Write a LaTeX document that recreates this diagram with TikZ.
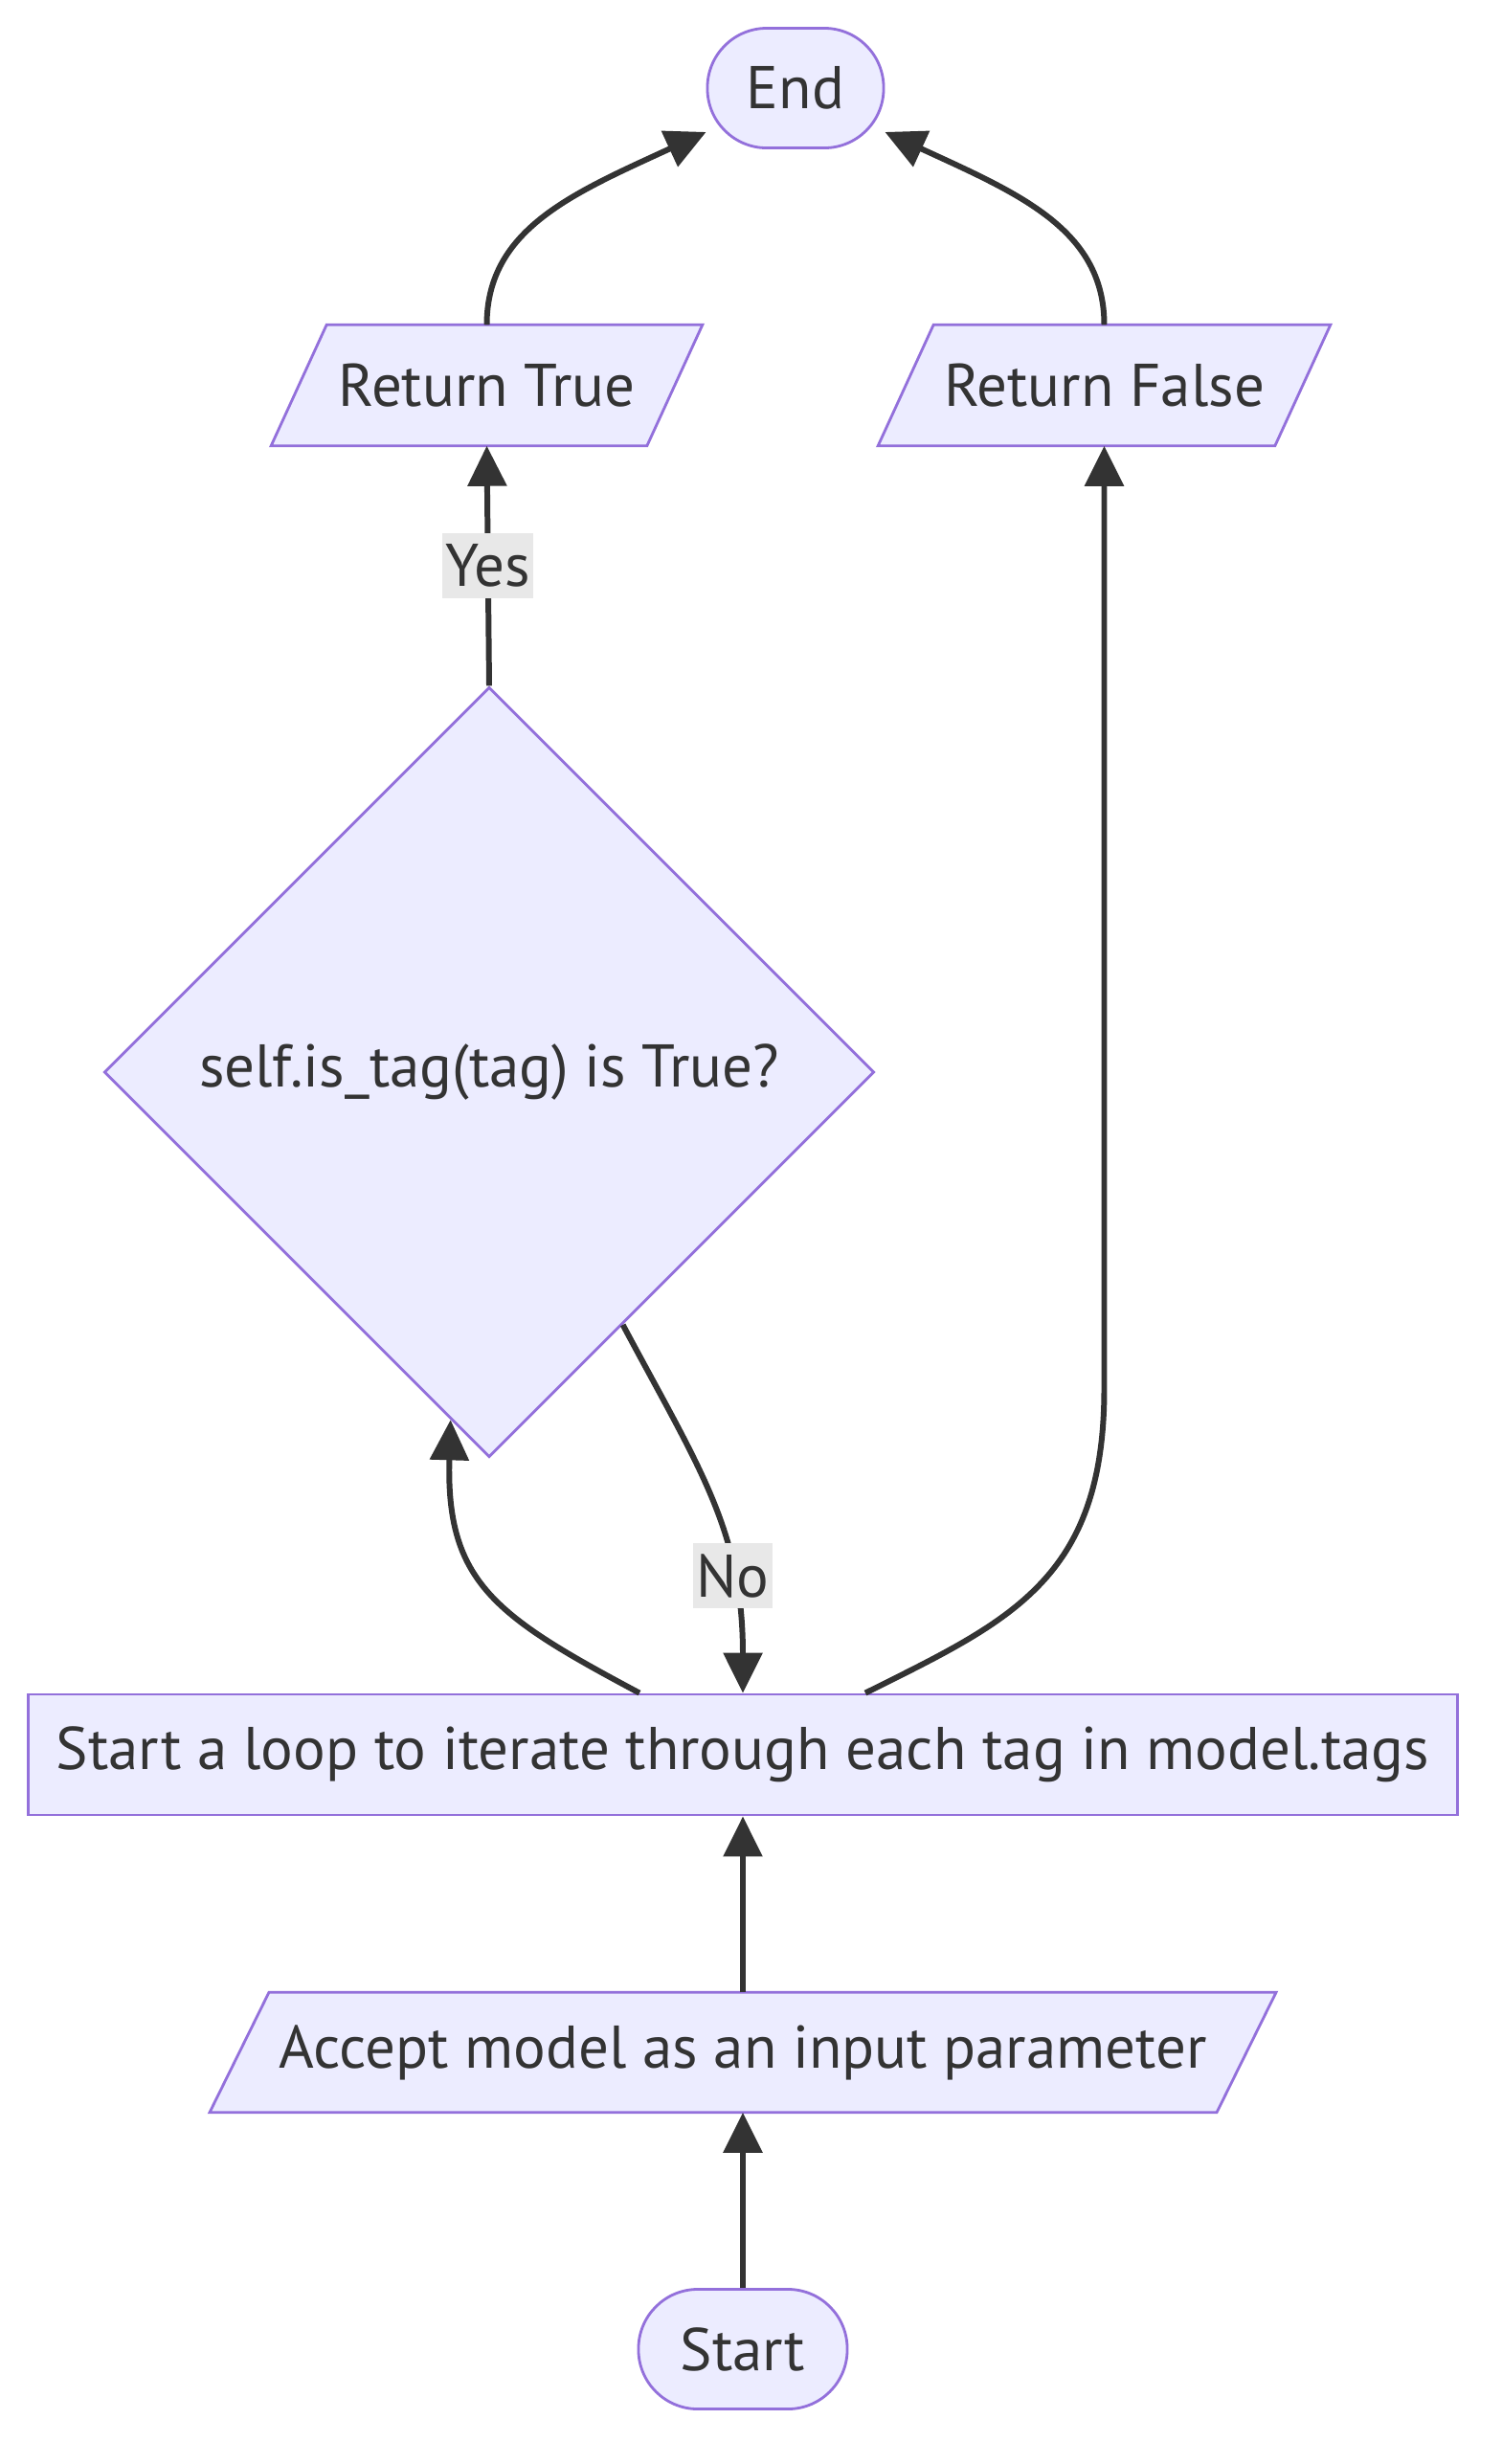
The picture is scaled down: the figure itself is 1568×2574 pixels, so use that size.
\documentclass[tikz,border=0pt]{standalone}
\usepackage{fontspec}
\setmainfont{PT Sans}
\usetikzlibrary{arrows.meta,calc,shapes.geometric,backgrounds}
\definecolor{nodefill}{HTML}{ECECFF}
\definecolor{nodeline}{HTML}{9370DB}
\definecolor{ink}{HTML}{333333}
\definecolor{lblbg}{HTML}{E8E8E8}
\newcommand{\fs}{\fontsize{17.9pt}{21pt}\selectfont}
\begin{document}
\begin{tikzpicture}[x=0.01cm,y=-0.01cm,
  base/.style={draw=nodeline,fill=nodefill,line width=0.8pt,text=ink,font=\fs,inner sep=0pt},
  term/.style={base,rectangle,rounded corners=0.62cm,minimum height=1.25cm},
  procbox/.style={base,rectangle,minimum height=1.26cm},
  iospace/.style={rectangle,text=ink,font=\fs,inner sep=0pt,minimum height=1.25cm},
  ioshape/.style={draw=nodeline,fill=nodefill,line width=0.8pt},
  decide/.style={base,diamond,minimum width=8.04cm,minimum height=8.04cm},
  edge/.style={draw=ink,line width=1.7pt,-{Triangle[length=0.42cm,width=0.40cm]}},
  lbl/.style={fill=lblbg,text=ink,font=\fs,inner xsep=0.035cm,inner ysep=0pt,minimum height=0.68cm}]
\node[term,minimum width=1.84cm] (End) at (831,92) {End};
\node[iospace,minimum width=4.49cm] (rt) at (508.5,402.5) {Return True};
\node[iospace,minimum width=4.71cm] (rf) at (1153.5,402.5) {Return False};
\node[decide] (diam) at (511,1120) {self.is\_tag(tag) is True?};
\node[procbox,minimum width=14.92cm] (loop) at (776,1833) {Start a loop to iterate through each tag in model.tags};
\node[iospace,minimum width=11.12cm,minimum height=1.24cm] (acc) at (776,2144) {Accept model as an input parameter};
\node[term,minimum width=2.18cm] (start) at (776,2454) {Start};
\begin{scope}[on background layer]
\fill[white] (0,0) rectangle (1568,2574);
\filldraw[ioshape] (rt.south west) -- ($(rt.south east)+(-58,0)$) -- (rt.north east) -- ($(rt.north west)+(58,0)$) -- cycle;
\filldraw[ioshape] (rf.south west) -- ($(rf.south east)+(-58,0)$) -- (rf.north east) -- ($(rf.north west)+(58,0)$) -- cycle;
\filldraw[ioshape] (acc.south west) -- ($(acc.south east)+(-62,0)$) -- (acc.north east) -- ($(acc.north west)+(62,0)$) -- cycle;
\end{scope}
\coordinate (loopL) at ($(loop.north)+(-108,0)$);
\coordinate (loopR) at ($(loop.north)+(128,0)$);
\coordinate (diamIn) at ($(diam.south)!0.1!(diam.west)$);
\coordinate (diamOut) at ($(diam.south)!0.346!(diam.east)$);
\coordinate (rfb) at ($(rf.south)+(0,985)$);
\coordinate (endL) at ($(End.south west)+(0,-18)$);
\coordinate (endR) at ($(End.south east)+(0,-18)$);
\draw[edge] (start) -- (acc);
\draw[edge] (acc) -- (loop);
\draw[edge] (loopL) .. controls +(-150,-80) and +(-5,170) .. (diamIn);
\draw[edge] (diamOut) .. controls +(80,150) and +(0,-170) .. node[lbl,pos=0.72] (nolbl) {No} (loop.north);
\draw[edge] (loopR) .. controls +(150,-75) and +(0,200) .. (rfb) -- (rf.south);
\draw[edge] (diam.north) -- node[lbl,pos=0.5] (yeslbl) {Yes} (rt.south);
\draw[edge] (rt.north) .. controls +(0,-100) and +(-139,64) .. (endL);
\draw[edge] (rf.north) .. controls +(0,-100) and +(139,64) .. (endR);
\end{tikzpicture}
\end{document}
